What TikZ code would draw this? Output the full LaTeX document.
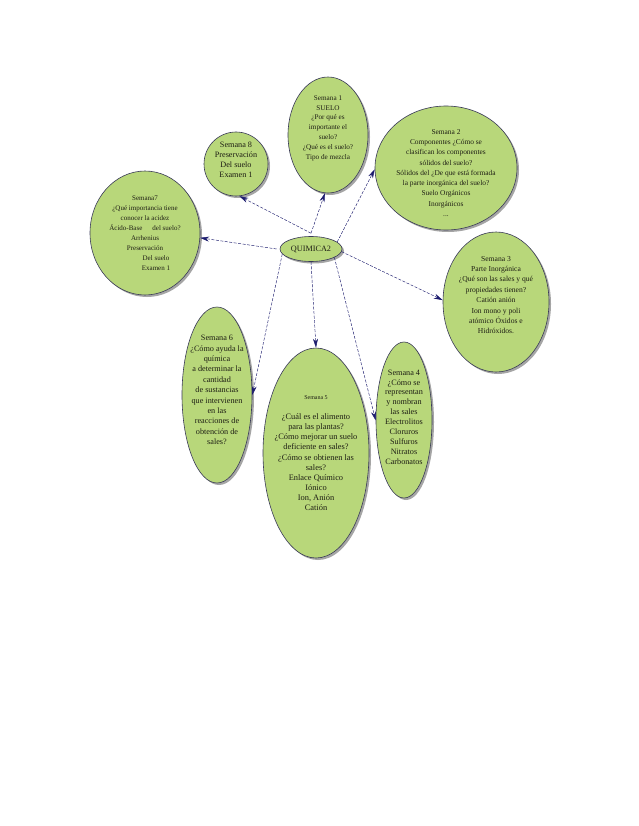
\documentclass[tikz,border=0pt]{standalone}
\usepackage{fontspec}
\setmainfont{Liberation Serif}
\usetikzlibrary{shapes.geometric,shadows,arrows.meta}
\definecolor{leaf}{RGB}{184,215,122}
\definecolor{rim}{RGB}{58,58,88}
\definecolor{ink}{RGB}{28,28,110}
\definecolor{txtc}{RGB}{30,30,20}
\begin{document}
\begin{tikzpicture}[x=1pt,y=-1pt,
  bubble/.style={ellipse, draw=rim, line width=0.6pt, fill=leaf, inner sep=0pt,
    drop shadow={shadow xshift=2pt, shadow yshift=-2pt, fill=black!50, opacity=0.7}},
  txt/.style={align=center, text=txtc, inner sep=0pt},
  link/.style={draw=ink, line width=0.45pt, dash pattern=on 3pt off 1.5pt,
    -{Stealth[length=9pt,width=5pt]}}]
\useasboundingbox (0,0) rectangle (638,826);
\fill[white] (0,0) rectangle (638,826);

% ellipses
\node[bubble, minimum width=80pt, minimum height=116pt] (s1) at (328,135) {};
\node[bubble, minimum width=64pt, minimum height=64pt] (s8) at (236,164) {};
\node[bubble, minimum width=142pt, minimum height=124pt] (s2) at (446,168) {};
\node[bubble, minimum width=110pt, minimum height=124pt] (s7) at (145,233) {};
\node[bubble, minimum width=62pt, minimum height=25pt] (q) at (311,249) {};
\node[bubble, minimum width=106pt, minimum height=140pt] (s3) at (496,302) {};
\node[bubble, minimum width=70pt, minimum height=176pt] (s6) at (217,395) {};
\node[bubble, minimum width=106pt, minimum height=210pt] (s5) at (316,453) {};
\node[bubble, minimum width=56pt, minimum height=156pt] (s4) at (404,420) {};

% texts
\node[txt, font=\fontsize{7.2}{9.8}\selectfont, yshift=7pt] (t1) at (s1.center)
  {Semana 1\\SUELO\\¿Por qué es\\importante el\\suelo?\\¿Qué es el suelo?\\Tipo de mezcla};
\node[txt, font=\fontsize{8.2}{10}\selectfont, yshift=4pt] (t8) at (s8.center)
  {Semana 8\\Preservación\\Del suelo\\Examen 1};
\node[txt, font=\fontsize{7.4}{10.3}\selectfont, yshift=-5pt] (t2) at (s2.center)
  {Semana 2\\Componentes ¿Cómo se\\clasifican los componentes\\sólidos del suelo?\\Sólidos del ¿De que está formada\\la parte inorgánica del suelo?\\Suelo Orgánicos\\Inorgánicos\\...};
\node[txt, font=\fontsize{7}{10}\selectfont, yshift=0pt] (t7) at (s7.center)
  {Semana7\\¿Qué importancia tiene\\conocer la acidez\\Ácido-Base\hspace{10pt}del suelo?\\Arrhenius\\Preservación\\\hspace{22pt}Del suelo\\\hspace{22pt}Examen 1};
\node[txt, font=\fontsize{8.2}{10}\selectfont] (tq) at (q.center) {QUIMICA2};
\node[txt, font=\fontsize{7.6}{10.4}\selectfont, yshift=7pt] (t3) at (s3.center)
  {Semana 3\\Parte Inorgánica\\¿Qué son las sales y qué\\propiedades tienen?\\Catión anión\\Ion mono y poli\\atómico Óxidos e\\Hidróxidos.};
\node[txt, font=\fontsize{8.2}{10.4}\selectfont, yshift=5pt] (t6) at (s6.center)
  {Semana 6\\¿Cómo ayuda la\\química\\a determinar la\\cantidad\\de sustancias\\que intervienen\\en las\\reacciones de\\obtención de\\sales?};
\node[txt, font=\fontsize{8.4}{10.1}\selectfont, yshift=0pt] (t5) at (s5.center)
  {{\fontsize{6}{10.1}\selectfont Semana 5}\\[10.1pt]¿Cuál es el alimento\\para las plantas?\\¿Cómo mejorar un suelo\\deficiente en sales?\\¿Cómo se obtienen las\\sales?\\Enlace Químico\\Iónico\\Ion, Anión\\Catión};
\node[txt, font=\fontsize{8.2}{9.9}\selectfont, yshift=3pt] (t4) at (s4.center)
  {Semana 4\\¿Cómo se\\representan\\y nombran\\las sales\\Electrolitos\\Cloruros\\Sulfuros\\Nitratos\\Carbonatos};

% connectors
\draw[link] ([yshift=3pt]q.north) -- (s8.-84);
\draw[link] ([yshift=3pt]q.north) -- (s1.-93);
\draw[link] ([xshift=-3pt]q.west) -- (s7.-5);
\draw[link] (q.15) -- (s2.181);
\draw[link] (q.-5) -- (s3.178);
\draw[link] (q.south) -- (s5.90);
\draw[link] (q.190) -- (s6.0);
\draw[link] (q.-20) -- (s4.181);
\end{tikzpicture}
\end{document}
